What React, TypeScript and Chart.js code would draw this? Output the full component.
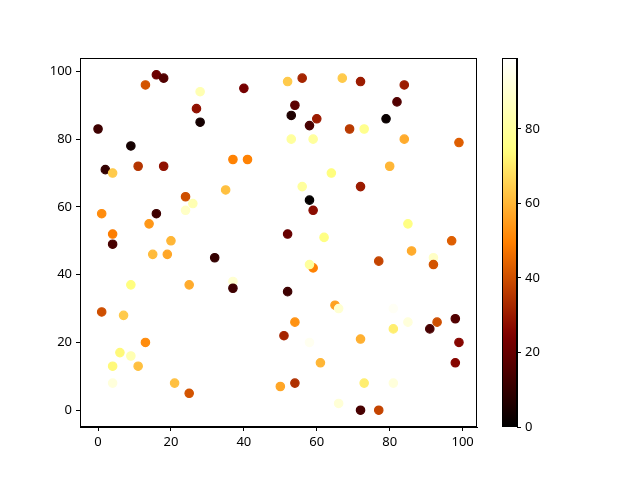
import React, { useEffect, useRef } from "react";
import { Chart, registerables } from "chart.js";

Chart.register(...registerables);

const xs = [0, 2, 4, 9, 13, 16, 18, 28, 27, 28, 40, 11, 18, 37, 41, 52, 56, 67, 72, 84, 54, 53, 58, 60, 69, 73, 79, 82, 53, 59, 84, 99, 64, 80, 72, 56, 58, 59, 62, 59, 58, 52, 52, 85, 86, 77, 92, 92, 97, 1, 4, 4, 16, 14, 24, 24, 26, 35, 15, 19, 20, 32, 9, 25, 37, 37, 1, 7, 13, 6, 9, 4, 11, 4, 21, 25, 50, 54, 54, 51, 65, 66, 58, 61, 72, 73, 66, 72, 77, 81, 81, 85, 81, 91, 93, 98, 99, 98];
const ys = [83, 71, 70, 78, 96, 99, 98, 94, 89, 85, 95, 72, 72, 74, 74, 97, 98, 98, 97, 96, 90, 87, 84, 86, 83, 83, 86, 91, 80, 80, 80, 79, 70, 72, 66, 66, 62, 59, 51, 42, 43, 52, 35, 55, 47, 44, 45, 43, 50, 58, 52, 49, 58, 55, 63, 59, 61, 65, 46, 46, 50, 45, 37, 37, 38, 36, 29, 28, 20, 17, 16, 13, 13, 8, 8, 5, 7, 8, 26, 22, 31, 30, 20, 14, 21, 8, 2, 0, 0, 8, 24, 26, 30, 24, 26, 27, 20, 14];
const cs = [12, 10, 64, 4, 41, 21, 16, 84, 28, 4, 23, 35, 28, 50, 50, 64, 32, 64, 30, 30, 18, 6, 14, 30, 36, 77, 2, 16, 80, 80, 58, 43, 74, 60, 30, 80, 1, 27, 75, 50, 80, 20, 12, 75, 58, 38, 88, 41, 43, 52, 49, 14, 12, 54, 40, 88, 84, 62, 61, 57, 60, 10, 74, 58, 90, 12, 40, 64, 52, 73, 84, 73, 62, 92, 62, 41, 57, 34, 53, 32, 56, 90, 96, 60, 59, 71, 91, 14, 38, 92, 71, 92, 97, 14, 40, 16, 26, 26];
const axisTicks = [0, 20, 40, 60, 80, 100];
const cbTicks = [0, 20, 40, 60, 80];
const CMIN = 0;
const CMAX = 99;

function afmhot(t: number): string {
  const c = (v: number) => Math.round(Math.max(0, Math.min(1, v)) * 255);
  return `rgb(${c(2 * t)},${c(2 * t - 0.5)},${c(2 * t - 1)})`;
}

const FONT = { family: "'Noto Sans', 'DejaVu Sans', sans-serif", size: 13 };

const frame = {
  id: "frame",
  afterDraw(chart: any) {
    const { ctx, chartArea: a } = chart;
    ctx.save();
    ctx.strokeStyle = "#000";
    ctx.lineWidth = 1;
    ctx.strokeRect(a.left + 0.5, a.top + 0.5, a.right - a.left - 1, a.bottom - a.top - 1);
    ctx.restore();
  },
};

const gradientFill = {
  id: "gradientFill",
  beforeDatasetsDraw(chart: any) {
    const { ctx, chartArea: a } = chart;
    const g = ctx.createLinearGradient(0, a.bottom, 0, a.top);
    for (let i = 0; i <= 50; i++) g.addColorStop(i / 50, afmhot(i / 50));
    ctx.save();
    ctx.fillStyle = g;
    ctx.fillRect(a.left, a.top, a.right - a.left, a.bottom - a.top);
    ctx.restore();
  },
};

export default function App() {
  const mainRef = useRef<HTMLCanvasElement>(null);
  const cbRef = useRef<HTMLCanvasElement>(null);

  useEffect(() => {
    const colors = cs.map((v) => afmhot((v - CMIN) / (CMAX - CMIN)));
    const points = xs.map((x, i) => ({ x, y: ys[i] }));
    const tickCfg = {
      grid: { display: true, drawOnChartArea: false, drawTicks: true, tickLength: 4, color: "#000" },
      border: { display: true, color: "#000" },
    };
    const main = new Chart(mainRef.current!, {
      type: "scatter",
      data: {
        datasets: [
          {
            data: points,
            pointBackgroundColor: colors,
            pointBorderColor: colors,
            pointRadius: 4.2,
            pointBorderWidth: 1.2,
            pointHoverRadius: 4.2,
          },
        ],
      },
      options: {
        animation: false,
        responsive: false,
        layout: { padding: { left: 0, top: 58, right: 163, bottom: 0 } },
        plugins: { legend: { display: false }, tooltip: { enabled: false } },
        scales: {
          x: {
            type: "linear",
            min: -4.95,
            max: 103.95,
            ...tickCfg,
            ticks: { color: "#000", font: FONT, padding: 3, maxRotation: 0 },
            afterBuildTicks: (s: any) => {
              s.ticks = axisTicks.map((v) => ({ value: v }));
            },
            afterFit: (s: any) => {
              s.height = 53;
            },
          },
          y: {
            type: "linear",
            min: -4.95,
            max: 103.95,
            ...tickCfg,
            ticks: { color: "#000", font: FONT, padding: 4 },
            afterBuildTicks: (s: any) => {
              s.ticks = axisTicks.map((v) => ({ value: v }));
            },
            afterFit: (s: any) => {
              s.width = 80;
            },
          },
        },
      },
      plugins: [frame],
    });

    const cb = new Chart(cbRef.current!, {
      type: "scatter",
      data: { datasets: [] },
      options: {
        animation: false,
        responsive: false,
        layout: { padding: { left: 42, top: 58, right: 0, bottom: 53 } },
        plugins: { legend: { display: false }, tooltip: { enabled: false } },
        scales: {
          x: { type: "linear", display: false, min: 0, max: 1 },
          y: {
            type: "linear",
            position: "right",
            min: CMIN,
            max: CMAX,
            ...tickCfg,
            ticks: { color: "#000", font: FONT, padding: 4 },
            afterBuildTicks: (s: any) => {
              s.ticks = cbTicks.map((v) => ({ value: v }));
            },
            afterFit: (s: any) => {
              s.width = 43;
            },
          },
        },
      },
      plugins: [gradientFill, frame],
    });

    return () => {
      main.destroy();
      cb.destroy();
    };
  }, []);

  return (
    <div style={{ position: "fixed", left: 0, top: 0, width: 640, height: 480, background: "#fff" }}>
      <canvas ref={mainRef} width={640} height={480} style={{ position: "absolute", left: 0, top: 0 }} />
      <canvas ref={cbRef} width={100} height={480} style={{ position: "absolute", left: 460, top: 0 }} />
    </div>
  );
}
